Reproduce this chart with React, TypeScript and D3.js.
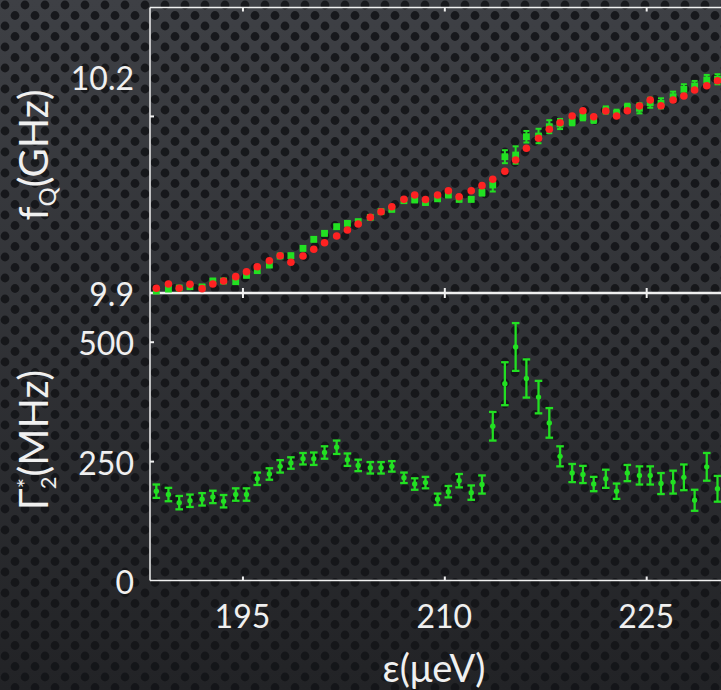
import { useEffect, useRef } from 'react';
import * as d3 from 'd3';

// detuning ε (μeV), one per measured point
const epsilon = [
  188.6, 189.5, 190.3, 191.1, 192.0, 192.8, 193.6, 194.5, 195.3, 196.1,
  197.0, 197.8, 198.6, 199.5, 200.3, 201.1, 202.0, 202.8, 203.6, 204.5,
  205.3, 206.1, 207.0, 207.8, 208.6, 209.5, 210.3, 211.1, 212.0, 212.8,
  213.6, 214.5, 215.3, 216.1, 217.0, 217.8, 218.6, 219.5, 220.3, 221.1,
  222.0, 222.8, 223.6, 224.5, 225.3, 226.1, 227.0, 227.8, 228.6, 229.5,
  230.3,
];

// qubit frequency, model (red)
const fqModel = [
  9.9065, 9.9125, 9.9065, 9.912, 9.906, 9.9125, 9.9166, 9.9226, 9.9295, 9.9364,
  9.9447, 9.9516, 9.9425, 9.9512, 9.9605, 9.9696, 9.9789, 9.9872, 9.9955, 10.0047,
  10.0125, 10.0194, 10.0296, 10.0356, 10.0294, 10.0356, 10.0415, 10.0332, 10.0415, 10.0485,
  10.0573, 10.0684, 10.084, 10.1002, 10.114, 10.1265, 10.1356, 10.1449, 10.1522, 10.1439,
  10.1518, 10.1449, 10.1522, 10.1587, 10.167, 10.1591, 10.167, 10.1726, 10.1809, 10.1868,
  10.1937,
];

// qubit frequency, measured (green)
const fqMeasured = [
  9.9028, 9.9055, 9.9069, 9.9087, 9.9083, 9.9166, 9.9166, 9.9156, 9.9245, 9.9309,
  9.9387, 9.9512, 9.9516, 9.9618, 9.9743, 9.9826, 9.9917, 9.9964, 9.9986, 10.0047,
  10.0125, 10.0158, 10.0277, 10.0287, 10.0252, 10.0303, 10.0356, 10.0296, 10.0296, 10.0388,
  10.0494, 10.0886, 10.0909, 10.1162, 10.1172, 10.1301, 10.1338, 10.137, 10.1439, 10.1403,
  10.1532, 10.1486, 10.1569, 10.1555, 10.1633, 10.1624, 10.1716, 10.1818, 10.1864, 10.1947,
  10.1957,
];

const fqErr = [
  0.003, 0.003, 0.003, 0.003, 0.003, 0.003, 0.003, 0.003, 0.003, 0.003,
  0.003, 0.003, 0.003, 0.003, 0.003, 0.003, 0.003, 0.003, 0.003, 0.003,
  0.003, 0.003, 0.003, 0.003, 0.003, 0.003, 0.003, 0.003, 0.003, 0.004,
  0.009, 0.009, 0.012, 0.008, 0.010, 0.009, 0.007, 0.005, 0.005, 0.005,
  0.005, 0.005, 0.005, 0.007, 0.007, 0.007, 0.007, 0.007, 0.007, 0.007,
  0.007,
];

// dephasing rate Γ*2 (MHz)
const gamma = [
  187, 180, 163, 167, 170, 175, 166, 180, 180, 213,
  223, 239, 246, 255, 255, 268, 279, 253, 241, 236,
  236, 239, 215, 202, 205, 170, 186, 209, 184, 201,
  323, 412, 489, 423, 384, 330, 260, 225, 222, 202,
  213, 187, 225, 220, 220, 203, 206, 216, 168, 238,
  192,
];

const gammaErr = [
  14, 14, 14, 13, 13, 13, 13, 13, 13, 13,
  12, 13, 12, 12, 13, 13, 14, 13, 12, 12,
  12, 11, 11, 12, 12, 12, 12, 14, 15, 19,
  30, 45, 50, 40, 34, 31, 21, 19, 18, 15,
  19, 16, 17, 19, 19, 22, 24, 27, 22, 29,
  27,
];

const xTicks = [195, 210, 225];
const fqTickLabels = [9.9, 10.2];
const fqTickMarks = [10.145];
const gammaTickLabels = [0, 250, 500];
const gammaTickMarks = [250, 500];

const FONT = 'Lato, "Open Sans", sans-serif';
const WHITE = '#f0f0f0';
const RED = '#ff2222';
const GREEN = '#22e022';

export default function App() {
  const svgRef = useRef(null);

  useEffect(() => {
    const svg = d3.select(svgRef.current);
    svg.selectAll('*').remove();

    const width = 721;
    const height = 690;
    const left = 150;
    const right = 735;
    const top = 7.5;
    const mid = 293;
    const bottom = 580.5;

    const x = d3.scaleLinear().domain([188.13, 231.6]).range([left, right]);
    const yTop = d3.scaleLinear().domain([9.9, 10.295]).range([mid, top]);
    const yBot = d3.scaleLinear().domain([0, 602]).range([bottom, mid]);

    // background: gradient + perforated dot pattern
    const defs = svg.append('defs');
    const grad = defs.append('linearGradient').attr('id', 'bg').attr('x1', 0).attr('y1', 0).attr('x2', 0).attr('y2', 1);
    grad.append('stop').attr('offset', '0%').attr('stop-color', '#3e4045');
    grad.append('stop').attr('offset', '100%').attr('stop-color', '#222326');
    const pat = defs.append('pattern').attr('id', 'dots').attr('patternUnits', 'userSpaceOnUse')
      .attr('width', 20).attr('height', 21);
    pat.append('circle').attr('cx', 5).attr('cy', 5).attr('r', 4.4).attr('fill', '#131417').attr('opacity', 0.9);
    pat.append('circle').attr('cx', 15).attr('cy', 15.5).attr('r', 4.4).attr('fill', '#131417').attr('opacity', 0.9);

    svg.append('rect').attr('width', width).attr('height', height).attr('fill', 'url(#bg)');
    svg.append('rect').attr('width', width).attr('height', height).attr('fill', 'url(#dots)');

    // frame
    const frame = svg.append('g').attr('stroke', WHITE).attr('fill', 'none');
    frame.append('line').attr('x1', left).attr('x2', right).attr('y1', top).attr('y2', top).attr('stroke-width', 1.5);
    frame.append('line').attr('x1', left).attr('x2', left).attr('y1', top).attr('y2', bottom).attr('stroke-width', 1.5);
    frame.append('line').attr('x1', left).attr('x2', right).attr('y1', mid).attr('y2', mid).attr('stroke-width', 2.5);
    frame.append('line').attr('x1', left).attr('x2', right).attr('y1', bottom).attr('y2', bottom).attr('stroke-width', 1.5);

    // inward tick marks
    const tickAxis = (axis, tx, ty) => {
      const g = svg.append('g').attr('transform', `translate(${tx},${ty})`).call(axis);
      g.select('.domain').remove();
      g.selectAll('line').attr('stroke', WHITE).attr('stroke-width', 2);
      g.selectAll('text').remove();
    };
    tickAxis(d3.axisTop(x).tickValues(xTicks).tickSize(-4).tickFormat(() => ''), 0, top);
    tickAxis(d3.axisBottom(x).tickValues(xTicks).tickSize(-5).tickFormat(() => ''), 0, mid);
    tickAxis(d3.axisTop(x).tickValues(xTicks).tickSize(-5).tickFormat(() => ''), 0, mid);
    tickAxis(d3.axisBottom(x).tickValues(xTicks).tickSize(-4).tickFormat(() => ''), 0, bottom);
    tickAxis(d3.axisLeft(yTop).tickValues(fqTickMarks).tickSize(-4).tickFormat(() => ''), left, 0);
    tickAxis(d3.axisLeft(yBot).tickValues(gammaTickMarks).tickSize(-4).tickFormat(() => ''), left, 0);

    // tick labels
    const labels = svg.append('g').attr('fill', WHITE).attr('font-family', FONT).attr('font-size', 32);
    labels.selectAll('.xl').data(xTicks).join('text')
      .attr('x', (d) => x(d)).attr('y', 628).attr('text-anchor', 'middle').text((d) => d);
    labels.selectAll('.yt').data(fqTickLabels).join('text')
      .attr('x', 134).attr('y', (d) => yTop(d)).attr('dy', '0.42em').attr('text-anchor', 'end').text((d) => d.toFixed(1));
    labels.selectAll('.yb').data(gammaTickLabels).join('text')
      .attr('x', 134).attr('y', (d) => yBot(d)).attr('dy', '0.42em').attr('text-anchor', 'end').text((d) => d);

    // axis titles
    const t1 = svg.append('text').attr('transform', 'translate(48,155) rotate(-90)').attr('text-anchor', 'middle')
      .attr('fill', WHITE).attr('font-family', FONT).attr('font-size', 40);
    t1.append('tspan').text('f');
    t1.append('tspan').attr('font-size', 24).attr('dy', 8).text('Q');
    t1.append('tspan').attr('dy', -8).text('(GHz)');

    const t2 = svg.append('text').attr('transform', 'translate(48,440) rotate(-90)').attr('text-anchor', 'middle')
      .attr('fill', WHITE).attr('font-family', FONT).attr('font-size', 40);
    t2.append('tspan').text('Γ');
    t2.append('tspan').attr('font-size', 24).attr('dy', -14).text('*');
    t2.append('tspan').attr('font-size', 22).attr('dx', -11).attr('dy', 22).text('2');
    t2.append('tspan').attr('dy', -8).text('(MHz)');

    svg.append('text').attr('x', 434).attr('y', 682).attr('text-anchor', 'middle')
      .attr('fill', WHITE).attr('font-family', FONT).attr('font-size', 38).text('ε(μeV)');

    // top panel: measured squares with error bars, model circles above
    const topData = epsilon.map((e, i) => ({ e, m: fqMeasured[i], err: fqErr[i], r: fqModel[i] }));
    const gTop = svg.append('g');
    const tg = gTop.selectAll('.tg').data(topData).join('g').attr('stroke', GREEN).attr('stroke-width', 2);
    tg.append('line').attr('x1', (d) => x(d.e)).attr('x2', (d) => x(d.e))
      .attr('y1', (d) => yTop(d.m - d.err)).attr('y2', (d) => yTop(d.m + d.err));
    tg.append('line').attr('x1', (d) => x(d.e) - 3).attr('x2', (d) => x(d.e) + 3)
      .attr('y1', (d) => yTop(d.m - d.err)).attr('y2', (d) => yTop(d.m - d.err));
    tg.append('line').attr('x1', (d) => x(d.e) - 3).attr('x2', (d) => x(d.e) + 3)
      .attr('y1', (d) => yTop(d.m + d.err)).attr('y2', (d) => yTop(d.m + d.err));
    tg.append('rect').attr('x', (d) => x(d.e) - 3.4).attr('y', (d) => yTop(d.m) - 3.4)
      .attr('width', 6.8).attr('height', 6.8).attr('fill', GREEN).attr('stroke', 'none');
    gTop.selectAll('.tr').data(topData).join('circle')
      .attr('cx', (d) => x(d.e)).attr('cy', (d) => yTop(d.r)).attr('r', 3.8).attr('fill', RED);

    // bottom panel: dephasing rate with error bars
    const botData = epsilon.map((e, i) => ({ e, v: gamma[i], err: gammaErr[i] }));
    const bg = svg.append('g').selectAll('.bg').data(botData).join('g').attr('stroke', GREEN).attr('stroke-width', 2.3);
    bg.append('line').attr('x1', (d) => x(d.e)).attr('x2', (d) => x(d.e))
      .attr('y1', (d) => yBot(d.v - d.err)).attr('y2', (d) => yBot(d.v + d.err));
    bg.append('line').attr('x1', (d) => x(d.e) - 3.8).attr('x2', (d) => x(d.e) + 3.8)
      .attr('y1', (d) => yBot(d.v - d.err)).attr('y2', (d) => yBot(d.v - d.err));
    bg.append('line').attr('x1', (d) => x(d.e) - 3.8).attr('x2', (d) => x(d.e) + 3.8)
      .attr('y1', (d) => yBot(d.v + d.err)).attr('y2', (d) => yBot(d.v + d.err));
    bg.append('circle').attr('cx', (d) => x(d.e)).attr('cy', (d) => yBot(d.v)).attr('r', 2.7)
      .attr('fill', GREEN).attr('stroke', 'none');

    return () => {
      svg.selectAll('*').remove();
    };
  }, []);

  return (
    <svg ref={svgRef} width={721} height={690} style={{ position: 'absolute', left: 0, top: 0, display: 'block' }} />
  );
}
